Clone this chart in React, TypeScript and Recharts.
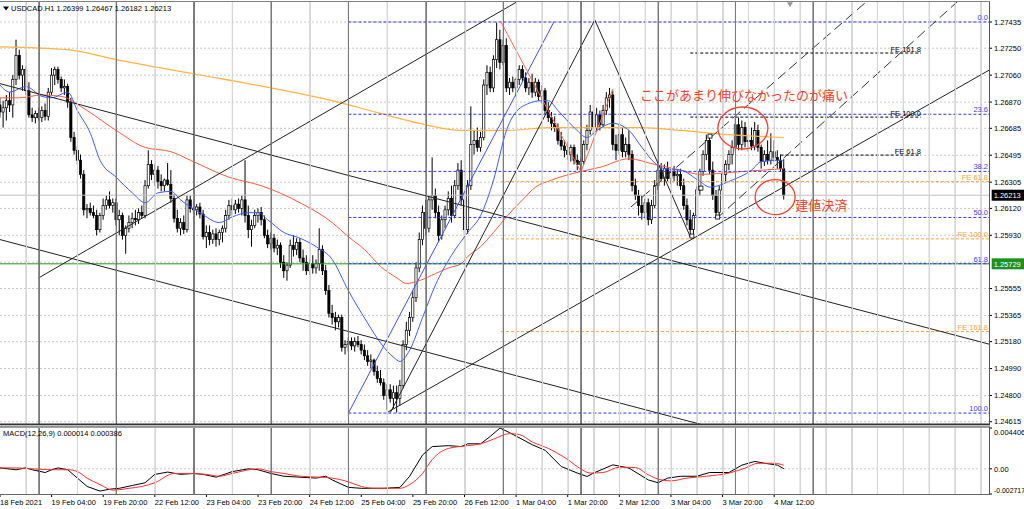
import React from 'react';
import {
  ComposedChart,
  Bar,
  Line,
  XAxis,
  YAxis,
  CartesianGrid,
  ReferenceLine,
  ReferenceDot,
} from 'recharts';

// ---------- DATA ----------
// H1 bars starting 18 Feb 2021 12:00 (index 0). [open, high, low, close]
const candles: number[][] = [
  [1.2685,1.2690,1.2676,1.2680],[1.2680,1.2688,1.2669,1.2683],[1.2683,1.2692,1.2674,1.2688],[1.2688,1.2694,1.2680,1.2685],
  [1.2685,1.2706,1.2676,1.2703],[1.2703,1.2731,1.2699,1.2720],[1.2720,1.2724,1.2703,1.2706],[1.2706,1.2713,1.2695,1.2710],
  [1.2710,1.2712,1.2692,1.2695],[1.2695,1.2701,1.2676,1.2678],[1.2678,1.2683,1.2673,1.2676],[1.2676,1.2681,1.2672,1.2679],
  [1.2679,1.2683,1.2674,1.2676],[1.2676,1.2684,1.2673,1.2681],[1.2681,1.2686,1.2674,1.2677],[1.2677,1.2697,1.2674,1.2694],
  [1.2694,1.2711,1.2692,1.2706],[1.2706,1.2712,1.2699,1.2710],[1.2710,1.2712,1.2700,1.2703],[1.2703,1.2705,1.2694,1.2697],
  [1.2697,1.2703,1.2692,1.2698],[1.2698,1.2700,1.2683,1.2687],[1.2687,1.2690,1.2659,1.2662],[1.2662,1.2666,1.2650,1.2653],
  [1.2653,1.2656,1.2643,1.2646],[1.2646,1.2650,1.2633,1.2636],[1.2636,1.2639,1.2607,1.2611],[1.2611,1.2615,1.2605,1.2612],
  [1.2612,1.2616,1.2607,1.2609],[1.2609,1.2614,1.2605,1.2607],[1.2607,1.2611,1.2593,1.2597],[1.2597,1.2609,1.2595,1.2607],
  [1.2607,1.2619,1.2604,1.2614],[1.2614,1.2621,1.2611,1.2618],[1.2618,1.2624,1.2612,1.2614],[1.2614,1.2619,1.2609,1.2616],
  [1.2616,1.2619,1.2600,1.2604],[1.2604,1.2611,1.2593,1.2607],[1.2607,1.2609,1.2590,1.2593],[1.2593,1.2600,1.2580,1.2598],
  [1.2598,1.2607,1.2595,1.2602],[1.2602,1.2609,1.2598,1.2605],[1.2605,1.2611,1.2600,1.2604],[1.2604,1.2612,1.2601,1.2609],
  [1.2609,1.2614,1.2605,1.2607],[1.2607,1.2632,1.2605,1.2628],[1.2628,1.2653,1.2626,1.2643],[1.2643,1.2646,1.2632,1.2636],
  [1.2636,1.2643,1.2628,1.2639],[1.2639,1.2642,1.2626,1.2631],[1.2631,1.2636,1.2624,1.2628],[1.2628,1.2633,1.2624,1.2632],
  [1.2632,1.2644,1.2628,1.2629],[1.2629,1.2639,1.2616,1.2619],[1.2619,1.2622,1.2602,1.2605],[1.2605,1.2611,1.2595,1.2598],
  [1.2598,1.2605,1.2593,1.2602],[1.2602,1.2607,1.2594,1.2597],[1.2597,1.2621,1.2595,1.2618],[1.2618,1.2621,1.2609,1.2612],
  [1.2612,1.2616,1.2608,1.2611],[1.2611,1.2615,1.2607,1.2613],[1.2613,1.2616,1.2605,1.2608],[1.2608,1.2611,1.2590,1.2592],
  [1.2592,1.2600,1.2584,1.2595],[1.2595,1.2600,1.2586,1.2590],[1.2590,1.2597,1.2587,1.2594],[1.2594,1.2598,1.2585,1.2590],
  [1.2590,1.2597,1.2586,1.2595],[1.2595,1.2600,1.2588,1.2598],[1.2598,1.2611,1.2595,1.2607],[1.2607,1.2618,1.2604,1.2614],
  [1.2614,1.2619,1.2607,1.2611],[1.2611,1.2618,1.2608,1.2615],[1.2615,1.2619,1.2609,1.2612],[1.2612,1.2621,1.2607,1.2618],
  [1.2618,1.2646,1.2602,1.2607],[1.2607,1.2614,1.2591,1.2597],[1.2597,1.2604,1.2585,1.2600],[1.2600,1.2611,1.2598,1.2607],
  [1.2607,1.2612,1.2602,1.2609],[1.2609,1.2613,1.2600,1.2604],[1.2604,1.2607,1.2591,1.2593],[1.2593,1.2597,1.2584,1.2587],
  [1.2587,1.2595,1.2583,1.2591],[1.2591,1.2594,1.2581,1.2584],[1.2584,1.2590,1.2579,1.2586],[1.2586,1.2588,1.2570,1.2574],
  [1.2574,1.2579,1.2563,1.2568],[1.2568,1.2574,1.2561,1.2572],[1.2572,1.2590,1.2570,1.2586],[1.2586,1.2593,1.2578,1.2583],
  [1.2583,1.2591,1.2579,1.2588],[1.2588,1.2591,1.2574,1.2577],[1.2577,1.2583,1.2568,1.2574],[1.2574,1.2579,1.2565,1.2568],
  [1.2568,1.2576,1.2565,1.2573],[1.2573,1.2579,1.2566,1.2570],[1.2570,1.2576,1.2566,1.2573],[1.2573,1.2598,1.2568,1.2583],
  [1.2583,1.2586,1.2565,1.2568],[1.2568,1.2572,1.2551,1.2554],[1.2554,1.2558,1.2535,1.2538],[1.2538,1.2544,1.2530,1.2535],
  [1.2535,1.2539,1.2526,1.2532],[1.2532,1.2537,1.2528,1.2535],[1.2535,1.2537,1.2511,1.2514],[1.2514,1.2519,1.2509,1.2516],
  [1.2516,1.2521,1.2511,1.2518],[1.2518,1.2521,1.2512,1.2515],[1.2515,1.2521,1.2511,1.2518],[1.2518,1.2522,1.2514,1.2516],
  [1.2516,1.2519,1.2509,1.2512],[1.2512,1.2516,1.2505,1.2508],[1.2508,1.2512,1.2501,1.2504],[1.2504,1.2509,1.2499,1.2505],
  [1.2505,1.2506,1.2494,1.2497],[1.2497,1.2501,1.2489,1.2492],[1.2492,1.2498,1.2487,1.2489],[1.2489,1.2492,1.2477,1.2480],
  [1.2480,1.2488,1.2470,1.2484],[1.2484,1.2488,1.2475,1.2478],[1.2478,1.2487,1.2471,1.2482],[1.2482,1.2487,1.2468,1.2478],
  [1.2478,1.2491,1.2473,1.2487],[1.2487,1.2519,1.2485,1.2516],[1.2516,1.2532,1.2512,1.2526],[1.2526,1.2539,1.2522,1.2535],
  [1.2535,1.2554,1.2532,1.2549],[1.2549,1.2574,1.2546,1.2570],[1.2570,1.2595,1.2567,1.2590],[1.2590,1.2614,1.2586,1.2609],
  [1.2609,1.2618,1.2593,1.2598],[1.2598,1.2621,1.2595,1.2618],[1.2618,1.2648,1.2611,1.2621],[1.2621,1.2626,1.2605,1.2609],
  [1.2609,1.2614,1.2588,1.2593],[1.2593,1.2607,1.2590,1.2604],[1.2604,1.2614,1.2598,1.2611],[1.2611,1.2624,1.2607,1.2619],
  [1.2619,1.2628,1.2602,1.2607],[1.2607,1.2632,1.2605,1.2628],[1.2628,1.2644,1.2625,1.2639],[1.2639,1.2646,1.2614,1.2618],
  [1.2618,1.2624,1.2590,1.2597],[1.2597,1.2632,1.2594,1.2628],[1.2628,1.2684,1.2625,1.2657],[1.2657,1.2667,1.2650,1.2660],
  [1.2660,1.2669,1.2652,1.2655],[1.2655,1.2666,1.2652,1.2662],[1.2662,1.2703,1.2660,1.2699],[1.2699,1.2713,1.2692,1.2708],
  [1.2708,1.2712,1.2694,1.2697],[1.2697,1.2720,1.2694,1.2717],[1.2717,1.2743,1.2711,1.2731],[1.2731,1.2738,1.2710,1.2715],
  [1.2715,1.2731,1.2713,1.2727],[1.2727,1.2732,1.2694,1.2697],[1.2697,1.2704,1.2692,1.2701],[1.2701,1.2705,1.2694,1.2697],
  [1.2697,1.2704,1.2691,1.2703],[1.2703,1.2713,1.2699,1.2710],[1.2710,1.2713,1.2701,1.2704],[1.2704,1.2708,1.2694,1.2697],
  [1.2697,1.2704,1.2692,1.2701],[1.2701,1.2707,1.2690,1.2694],[1.2694,1.2704,1.2691,1.2701],[1.2701,1.2703,1.2688,1.2691],
  [1.2691,1.2699,1.2686,1.2695],[1.2695,1.2697,1.2678,1.2681],[1.2681,1.2687,1.2673,1.2676],[1.2676,1.2680,1.2667,1.2672],
  [1.2672,1.2677,1.2666,1.2669],[1.2669,1.2672,1.2657,1.2660],[1.2660,1.2666,1.2653,1.2656],[1.2656,1.2660,1.2648,1.2653],
  [1.2653,1.2659,1.2646,1.2650],[1.2650,1.2657,1.2645,1.2655],[1.2655,1.2657,1.2643,1.2646],[1.2646,1.2650,1.2639,1.2643],
  [1.2643,1.2648,1.2638,1.2645],[1.2645,1.2660,1.2643,1.2657],[1.2657,1.2671,1.2653,1.2667],[1.2667,1.2685,1.2664,1.2680],
  [1.2680,1.2685,1.2664,1.2669],[1.2669,1.2683,1.2666,1.2678],[1.2678,1.2681,1.2667,1.2671],[1.2671,1.2685,1.2669,1.2681],
  [1.2681,1.2694,1.2678,1.2690],[1.2690,1.2697,1.2683,1.2692],[1.2692,1.2695,1.2653,1.2657],[1.2657,1.2664,1.2646,1.2653],
  [1.2653,1.2671,1.2650,1.2664],[1.2664,1.2669,1.2648,1.2652],[1.2652,1.2662,1.2648,1.2657],[1.2657,1.2667,1.2646,1.2650],
  [1.2650,1.2653,1.2624,1.2628],[1.2628,1.2633,1.2618,1.2621],[1.2621,1.2625,1.2607,1.2614],[1.2614,1.2621,1.2604,1.2609],
  [1.2609,1.2619,1.2605,1.2616],[1.2616,1.2619,1.2600,1.2604],[1.2604,1.2618,1.2601,1.2614],[1.2614,1.2632,1.2612,1.2628],
  [1.2628,1.2643,1.2625,1.2639],[1.2639,1.2644,1.2631,1.2633],[1.2633,1.2643,1.2628,1.2640],[1.2640,1.2645,1.2631,1.2633],
  [1.2633,1.2640,1.2629,1.2638],[1.2638,1.2642,1.2631,1.2635],[1.2635,1.2639,1.2628,1.2636],[1.2636,1.2640,1.2625,1.2628],
  [1.2628,1.2633,1.2611,1.2614],[1.2614,1.2619,1.2600,1.2604],[1.2604,1.2611,1.2592,1.2597],[1.2597,1.2609,1.2594,1.2607],
  [1.2607,1.2628,1.2605,1.2625],[1.2625,1.2640,1.2621,1.2638],[1.2638,1.2653,1.2635,1.2650],[1.2650,1.2664,1.2646,1.2660],
  [1.2660,1.2662,1.2636,1.2639],[1.2639,1.2645,1.2618,1.2621],[1.2621,1.2625,1.2605,1.2609],[1.2609,1.2628,1.2607,1.2625],
  [1.2625,1.2640,1.2618,1.2636],[1.2636,1.2646,1.2631,1.2643],[1.2643,1.2653,1.2639,1.2650],[1.2650,1.2660,1.2643,1.2655],
  [1.2655,1.2676,1.2652,1.2671],[1.2671,1.2676,1.2653,1.2657],[1.2657,1.2674,1.2653,1.2669],[1.2669,1.2673,1.2655,1.2659],
  [1.2659,1.2664,1.2652,1.2660],[1.2660,1.2669,1.2653,1.2656],[1.2656,1.2673,1.2653,1.2667],[1.2667,1.2671,1.2652,1.2655],
  [1.2655,1.2657,1.2640,1.2645],[1.2645,1.2653,1.2642,1.2650],[1.2650,1.2660,1.2643,1.2646],[1.2646,1.2665,1.2643,1.2652],
  [1.2652,1.2660,1.2645,1.2648],[1.2648,1.2653,1.2640,1.2646],[1.2646,1.2650,1.2638,1.2640],[1.26399,1.26467,1.26182,1.26213],
];

// moving averages [bar, price]
const maSlow: number[][] = [
  [0,1.2726],[21,1.2724],[36,1.2717],[60,1.2707],[84,1.2697],[103,1.2688],[118,1.2679],[130,1.2672],
  [143,1.2667],[157,1.2667],[171,1.2669],[183,1.2669],[199,1.2669],[211,1.2667],[226,1.2664],[243,1.2662],
];
const maMid: number[][] = [
  [0,1.2690],[6,1.2690],[13,1.2692],[19,1.2691],[27,1.2681],[36,1.2667],[45,1.2655],[53,1.2652],[59,1.2646],
  [71,1.2634],[81,1.2628],[93,1.2616],[103,1.2602],[108,1.2592],[113,1.2583],[118,1.2571],[123,1.2563],[126,1.2559],
  [130,1.2561],[135,1.2566],[139,1.2570],[143,1.2573],[145,1.2578],[149,1.2585],[153,1.2595],[157,1.2606],[162,1.2618],
  [166,1.2627],[171,1.2632],[180,1.2638],[186,1.2641],[195,1.2647],[203,1.2643],[211,1.2639],[217,1.2636],[230,1.2638],[243,1.2640],
];
const maFast: number[][] = [
  [0,1.2699],[3,1.2694],[8,1.2698],[13,1.2691],[16,1.2690],[21,1.2694],[24,1.2681],[28,1.2665],[31,1.2646],[36,1.2634],
  [41,1.2623],[45,1.2616],[49,1.2623],[53,1.2624],[56,1.2618],[62,1.2609],[68,1.2602],[72,1.2606],[77,1.2609],[80,1.2609],
  [83,1.2604],[88,1.2595],[93,1.2591],[98,1.2585],[103,1.2576],[108,1.2554],[114,1.2531],[118,1.2517],[122,1.2507],[124,1.2504],
  [127,1.2512],[131,1.2535],[135,1.2558],[140,1.2579],[145,1.2595],[149,1.2607],[153,1.2632],[157,1.2667],[162,1.2684],
  [168,1.2688],[170,1.2688],[173,1.2681],[178,1.2669],[182,1.2662],[185,1.2667],[190,1.2672],[195,1.2667],[199,1.2655],
  [203,1.2644],[206,1.2640],[211,1.2639],[217,1.2631],[220,1.2627],[227,1.2632],[233,1.2639],[236,1.2645],[242,1.2646],[243,1.2645],
];

// MACD(12,26,9) [bar, value]
const macdMain: number[][] = [
  [0,0.0001],[5,-0.0001],[8,0.0001],[10,-0.0001],[14,-0.0004],[16,-0.0001],[18,0.0001],[21,-0.0001],[24,-0.0010],[27,-0.0019],
  [31,-0.0024],[34,-0.0022],[37,-0.0021],[41,-0.0018],[45,-0.0015],[48,-0.0006],[52,-0.00035],[56,-0.0006],[60,-0.0005],
  [63,-0.0006],[67,-0.0009],[72,-0.0003],[77,0.0],[80,-0.0001],[84,-0.0005],[88,-0.0008],[93,-0.0009],[98,-0.0010],
  [101,-0.0008],[103,-0.0012],[108,-0.0020],[112,-0.0021],[119,-0.0021],[124,-0.0020],[127,-0.0008],[131,0.0015],
  [134,0.0024],[139,0.0025],[143,0.0024],[145,0.0027],[149,0.0027],[152,0.0035],[155,0.0044],[158,0.0039],[165,0.0026],
  [169,0.0020],[174,0.00025],[179,-0.00046],[182,-0.00083],[184,-0.00046],[190,0.00043],[195,0.00008],[201,-0.0012],
  [204,-0.0015],[207,-0.0010],[211,-0.0008],[216,-0.0008],[220,-0.0004],[226,-0.0004],[230,0.0004],[234,0.0008],
  [237,0.0006],[241,0.0004],[243,0.000014],
];
const macdSignal: number[][] = [
  [0,0.0001],[5,0.0001],[10,0.0],[16,-0.0001],[21,-0.0001],[24,-0.0003],[27,-0.0010],[31,-0.0017],[35,-0.0023],[40,-0.0021],
  [44,-0.0019],[48,-0.0015],[54,-0.0005],[58,-0.0005],[64,-0.0006],[68,-0.0008],[72,-0.0005],[80,0.0],[84,-0.0003],
  [88,-0.0005],[93,-0.0008],[99,-0.0009],[103,-0.0010],[108,-0.0014],[112,-0.0019],[116,-0.0021],[124,-0.0021],
  [127,-0.0017],[131,-0.0005],[134,0.0010],[139,0.0022],[145,0.0025],[149,0.0027],[153,0.0032],[158,0.0038],[161,0.0037],
  [165,0.0029],[170,0.0022],[176,0.0010],[180,0.0],[183,-0.00046],[187,-0.0004],[192,0.00018],[197,0.00014],[201,-0.00065],
  [205,-0.0012],[208,-0.0013],[213,-0.0010],[219,-0.0008],[226,-0.00046],[231,0.00008],[235,0.0006],[240,0.0006],[243,0.000386],
];

const priceTicks = [1.27435,1.2725,1.2706,1.2687,1.26685,1.26495,1.26305,1.2612,1.2593,1.25555,1.25365,1.2518,1.2499,1.248,1.24615];
const priceGrid = [1.27435,1.2725,1.2706,1.2687,1.26685,1.26495,1.26305,1.2612,1.2593,1.2574,1.25555,1.25365,1.2518,1.2499,1.248,1.24615];
const timeLabelBars = [0,16,32,48,64,80,96,112,128,144,160,176,192,208,224,240];
const timeLabels = ['18 Feb 2021','19 Feb 04:00','19 Feb 20:00','22 Feb 12:00','23 Feb 04:00','23 Feb 20:00','24 Feb 12:00',
  '25 Feb 04:00','25 Feb 20:00','26 Feb 12:00','1 Mar 04:00','1 Mar 20:00','2 Mar 12:00','3 Mar 04:00','3 Mar 20:00','4 Mar 12:00'];
const lightGridBars = [8,24,48,72,96,120,144,160,168,176,184,192,200,208,216,224,232,240,248,256,264,272,280,288,296,304];
const daySeparatorBars = [12,36,60,84,108,132,156,180,204,228,252];

// drawn objects: [bar1, price1, bar2, price2]
const trendLines: number[][] = [
  [0,1.2700,307,1.2516],
  [0,1.2590,220,1.2458],
  [12,1.2563,162,1.2760],
  [121,1.2468,184.4,1.2745],
  [184.4,1.2745,214,1.2592],
  [120,1.2468,307,1.2710],
];
const channelLines: number[][] = [
  [195.6,1.2613,268.7,1.2758],
  [222.2,1.2605,296.9,1.2758],
];
const fibDiagonal = [108, 1.24676, 171.7, 1.27435];
const fibLevels = [[0.0,1.27435],[23.6,1.26784],[38.2,1.26381],[50.0,1.26056],[61.8,1.2573],[100.0,1.24676]];
const feZigzag: number[][] = [[155.3,1.27435],[180.1,1.26377],[190,1.26963]];
const feOrangeLevels = [[61.8,1.26309],[100.0,1.25905],[161.8,1.25251]];
const feBlackLevels = [[161.8,1.27216,214],[100.0,1.26764,214],[61.8,1.26496,242]];
const fePoints: number[][] = [[214.5,1.25925],[217.3,1.26263],[220.1,1.2663],[222.5,1.26059]];
const bidPrice = 1.26213;
const greenLevel = 1.25729;
const ellipses = [[230.3,1.26687,25,21],[240.3,1.262,20,17.5]];
const notes: [number, number, string][] = [
  [198.4,1.2692,'ここがあまり伸びなかったのが痛い'],
  [246.5,1.26144,'建値決済'],
];

// ---------- CHART ----------
const X_DOMAIN: [number, number] = [0, 306.6];
const PRICE_DOMAIN: [number, number] = [1.24599, 1.27576];
const MACD_DOMAIN: [number, number] = [-0.002717, 0.004406];
const MAIN_HALF_H = 211;
const MACD_HALF_H = 33;
const FONT = '"Liberation Sans", Arial, sans-serif';
const RED = '#f5402c';
const LIGHT_GRID = '#d6d6d6';
const DAY_SEP = '#7a7a7a';

const candleData = candles.map(([o, h, l, c], i) => ({ i, o, h, l, c, range: [l, h] }));
const toPts = (arr: number[][]) => arr.map(([i, v]) => ({ i, v }));
const mid = (d: [number, number]) => (d[0] + d[1]) / 2;
// vertical grid as a gapped path: bottom -> top per bar, broken by a null point
const vGridData = (bars: number[], dom: [number, number]) =>
  bars.flatMap((b) => [{ i: b, v: dom[0] }, { i: b + 0.0001, v: dom[1] }, { i: b + 0.0002, v: null as number | null }]);

const CandleShape = (props: any) => {
  const { x, y, width, height, payload } = props;
  if (!payload || x == null || y == null || payload.o == null) return null;
  const { o, h, l, c } = payload;
  const cx = x + width / 2;
  const top = Math.min(y, y + height);
  const bot = Math.max(y, y + height);
  const span = h - l || 1e-9;
  const py = (p: number) => top + ((h - p) / span) * (bot - top);
  const yo = py(o);
  const yc = py(c);
  const bull = c >= o;
  const bt = Math.min(yo, yc);
  const bh = Math.max(Math.abs(yc - yo), 0.8);
  return (
    <g>
      <line x1={cx} x2={cx} y1={top} y2={bot} stroke="#000" strokeWidth={1} />
      <rect x={cx - 1.1} y={bt} width={2.2} height={bh} fill={bull ? '#fff' : '#000'} stroke="#000" strokeWidth={0.7} />
    </g>
  );
};

const PriceTick = (props: any) => {
  const { x, y, payload } = props;
  return (
    <text x={x} y={y} dy={2.7} fontSize={7.5} fontFamily={FONT} fill="#000" textAnchor="start">
      {Number(payload.value).toFixed(5)}
    </text>
  );
};

const MacdTick = (props: any) => {
  const { x, y, payload } = props;
  const v = payload.value;
  let dy = 2.7;
  let label = '0.00';
  let size = 7.5;
  if (v === MACD_DOMAIN[1]) { dy = 6.5; label = v.toFixed(6); }
  else if (v === MACD_DOMAIN[0]) { dy = -1.2; label = v.toFixed(6); size = 6.9; }
  return (
    <text x={x} y={y} dy={dy} fontSize={size} fontFamily={FONT} fill="#000" textAnchor="start">{label}</text>
  );
};

const TimeTick = (props: any) => {
  const { x, y, payload } = props;
  const idx = timeLabelBars.indexOf(payload.value);
  return (
    <text x={x} y={y} dy={7.5} fontSize={7.5} fontFamily={FONT} fill="#000" textAnchor="start">
      {idx >= 0 ? timeLabels[idx] : ''}
    </text>
  );
};

const textShape = (label: string, color: string, dx: number, dy: number, anchor: string, size = 7.5, family = FONT) =>
  (p: any) => (
    <text x={p.cx + dx} y={p.cy + dy} fill={color} fontSize={size} fontFamily={family} textAnchor={anchor}>{label}</text>
  );

const priceBox = (label: string, bg: string) => (p: any) => (
  <g>
    <rect x={p.cx + 3} y={p.cy - 5.5} width={34} height={11} fill={bg} />
    <text x={p.cx + 5} y={p.cy + 2.7} fill="#fff" fontSize={7.5} fontFamily={FONT}>{label}</text>
  </g>
);

// vertical grid: a dot anchored at bar b, mid-pane, drawing a thin rect over the pane height
const vGridDots = (bars: number[], dom: [number, number], halfH: number, color: string, prefix: string) =>
  bars.map((b) => (
    <ReferenceDot
      key={prefix + b}
      x={b}
      y={mid(dom)}
      r={1}
      ifOverflow="visible"
      shape={(q: any) => (
        <rect x={Math.round(q.cx)} y={q.cy - halfH} width={1} height={halfH * 2} fill={color} />
      )}
    />
  ));

const vGridLine = (data: any[], color: string) => (
  <Line data={data} dataKey="v" type="linear" stroke={color} strokeWidth={1} dot={false} activeDot={false}
    connectNulls={false} isAnimationActive={false} />
);

export default function App() {
  return (
    <div style={{ position: 'absolute', left: 0, top: 0, width: 1024, height: 509, background: '#fff', overflow: 'hidden' }}>
      <div style={{ position: 'absolute', left: 0, top: 0 }}>
        <ComposedChart width={1024} height={426} data={candleData} margin={{ top: 2, right: 0, bottom: 2, left: 0 }}>
          <CartesianGrid horizontalValues={priceGrid} vertical={false} stroke="#c8c8c8" strokeDasharray="2 2" />
          <XAxis type="number" dataKey="i" domain={X_DOMAIN} allowDataOverflow hide />
          <YAxis
            type="number"
            orientation="right"
            width={35}
            domain={PRICE_DOMAIN}
            allowDataOverflow
            ticks={priceTicks}
            interval={0}
            tick={<PriceTick />}
            tickSize={3}
            tickMargin={2}
            tickLine={{ stroke: '#000' }}
            axisLine={false}
          />
          {vGridDots(lightGridBars, PRICE_DOMAIN, MAIN_HALF_H, LIGHT_GRID, 'lg')}
          {vGridDots(daySeparatorBars, PRICE_DOMAIN, MAIN_HALF_H, DAY_SEP, 'ds')}
          {vGridLine(vGridData(lightGridBars, PRICE_DOMAIN), LIGHT_GRID)}
          {vGridLine(vGridData(daySeparatorBars, PRICE_DOMAIN), DAY_SEP)}
          <ReferenceLine y={bidPrice} stroke="#c0c0c0" strokeWidth={1} />
          <Bar dataKey="range" shape={CandleShape} isAnimationActive={false} barSize={3} />
          <Line data={toPts(maSlow)} dataKey="v" type="monotone" stroke="#ffb347" strokeWidth={1.2} dot={false} isAnimationActive={false} />
          <Line data={toPts(maMid)} dataKey="v" type="monotone" stroke="#ff5a3c" strokeWidth={1} dot={false} isAnimationActive={false} />
          <Line data={toPts(maFast)} dataKey="v" type="monotone" stroke="#3f5cff" strokeWidth={1} dot={false} isAnimationActive={false} />

          <ReferenceLine y={greenLevel} stroke="#1f9a1f" strokeWidth={1} />

          {fibLevels.map(([lv, p]) => (
            <ReferenceLine key={'fib' + lv} segment={[{ x: fibDiagonal[0], y: p }, { x: X_DOMAIN[1], y: p }]} stroke="#3333ff" strokeDasharray="3 2" ifOverflow="hidden" />
          ))}
          {feOrangeLevels.map(([lv, p]) => (
            <ReferenceLine key={'feo' + lv} segment={[{ x: feZigzag[0][0], y: p }, { x: X_DOMAIN[1], y: p }]} stroke="#ffa040" strokeDasharray="3 2" ifOverflow="hidden" />
          ))}
          {feBlackLevels.map(([lv, p, start]) => (
            <ReferenceLine key={'feb' + lv} segment={[{ x: start, y: p }, { x: 285.5, y: p }]} stroke="#000" strokeDasharray="3 2" ifOverflow="hidden" />
          ))}

          {trendLines.map((t, k) => (
            <ReferenceLine key={'tl' + k} segment={[{ x: t[0], y: t[1] }, { x: t[2], y: t[3] }]} stroke="#222" strokeWidth={1} ifOverflow="hidden" />
          ))}
          {channelLines.map((t, k) => (
            <ReferenceLine key={'ch' + k} segment={[{ x: t[0], y: t[1] }, { x: t[2], y: t[3] }]} stroke="#333" strokeWidth={1} strokeDasharray="10 5" ifOverflow="hidden" />
          ))}
          <ReferenceLine segment={[{ x: fibDiagonal[0], y: fibDiagonal[1] }, { x: fibDiagonal[2], y: fibDiagonal[3] }]} stroke="#3c50ff" strokeWidth={1} ifOverflow="hidden" />
          <ReferenceLine segment={[{ x: feZigzag[0][0], y: feZigzag[0][1] }, { x: feZigzag[1][0], y: feZigzag[1][1] }]} stroke="#ff6a4a" strokeWidth={1} ifOverflow="hidden" />
          <ReferenceLine segment={[{ x: feZigzag[1][0], y: feZigzag[1][1] }, { x: feZigzag[2][0], y: feZigzag[2][1] }]} stroke="#ff6a4a" strokeWidth={1} ifOverflow="hidden" />

          {fePoints.map(([i, p], k) => (
            <ReferenceDot key={'sq' + k} x={i} y={p} r={2}
              shape={(q: any) => <rect x={q.cx - 2} y={q.cy - 2} width={4} height={4} fill="#fff" stroke="#000" strokeWidth={0.8} />} />
          ))}

          {fibLevels.map(([lv, p]) => (
            <ReferenceDot key={'fibl' + lv} x={306.3} y={p} r={1} shape={textShape(lv.toFixed(1), '#3c3cff', 0, -2, 'end')} />
          ))}
          {feOrangeLevels.map(([lv, p]) => (
            <ReferenceDot key={'feol' + lv} x={306.3} y={p} r={1} shape={textShape('FE ' + lv.toFixed(1), '#ffa040', 0, -2, 'end')} />
          ))}
          {feBlackLevels.map(([lv, p]) => (
            <ReferenceDot key={'febl' + lv} x={285.5} y={p} r={1} shape={textShape('FE ' + lv.toFixed(1), '#000', 0, -1.5, 'end')} />
          ))}

          {ellipses.map(([i, p, rx, ry], k) => (
            <ReferenceDot key={'el' + k} x={i} y={p} r={1}
              shape={(q: any) => <ellipse cx={q.cx} cy={q.cy} rx={rx} ry={ry} fill="none" stroke={RED} strokeWidth={1.3} />} />
          ))}
          {notes.map(([i, p, s], k) => (
            <ReferenceDot key={'nt' + k} x={i} y={p} r={1}
              shape={textShape(s, RED, 0, 4.6, 'start', 13, '"Noto Sans CJK JP", sans-serif')} />
          ))}

          <ReferenceDot x={306.5} y={bidPrice} r={1} shape={priceBox(bidPrice.toFixed(5), '#000')} />
          <ReferenceDot x={306.5} y={greenLevel} r={1} shape={priceBox(greenLevel.toFixed(5), '#1f8f1f')} />
          <ReferenceDot x={244.9} y={1.2756} r={1}
            shape={(q: any) => <polygon points={`${q.cx - 3},${q.cy - 2} ${q.cx + 3},${q.cy - 2} ${q.cx},${q.cy + 3}`} fill="#9a9a9a" />} />
        </ComposedChart>
      </div>

      <div style={{ position: 'absolute', left: 0, top: 424 }}>
        <ComposedChart width={1024} height={85} margin={{ top: 4, right: 0, bottom: 0, left: 0 }}>
          <CartesianGrid horizontalValues={[0]} vertical={false} stroke="#c8c8c8" strokeDasharray="2 2" />
          <XAxis
            type="number"
            dataKey="i"
            domain={X_DOMAIN}
            allowDataOverflow
            ticks={timeLabelBars}
            interval={0}
            tick={<TimeTick />}
            tickSize={3}
            tickMargin={0}
            height={15}
            axisLine={false}
            tickLine={{ stroke: '#000' }}
          />
          <YAxis
            type="number"
            orientation="right"
            width={35}
            domain={MACD_DOMAIN}
            allowDataOverflow
            ticks={[MACD_DOMAIN[1], 0, MACD_DOMAIN[0]]}
            interval={0}
            tick={<MacdTick />}
            tickSize={3}
            tickMargin={2}
            tickLine={{ stroke: '#000' }}
            axisLine={false}
          />
          {vGridDots(lightGridBars, MACD_DOMAIN, MACD_HALF_H, LIGHT_GRID, 'mlg')}
          {vGridDots(daySeparatorBars, MACD_DOMAIN, MACD_HALF_H, DAY_SEP, 'mds')}
          {vGridLine(vGridData(lightGridBars, MACD_DOMAIN), LIGHT_GRID)}
          {vGridLine(vGridData(daySeparatorBars, MACD_DOMAIN), DAY_SEP)}
          <Line data={toPts(macdMain)} dataKey="v" type="linear" stroke="#000" strokeWidth={1} dot={false} isAnimationActive={false} />
          <Line data={toPts(macdSignal)} dataKey="v" type="monotone" stroke="#ff3030" strokeWidth={1} dot={false} isAnimationActive={false} />
        </ComposedChart>
      </div>

      <svg width={1024} height={509} style={{ position: 'absolute', left: 0, top: 0, pointerEvents: 'none' }}>
        <line x1={0} x2={989.5} y1={1.5} y2={1.5} stroke="#808080" />
        <line x1={989.5} x2={989.5} y1={1.5} y2={424} stroke="#555" />
        <rect x={0} y={423.5} width={990} height={1.6} fill="#333" />
        <rect x={0} y={425.1} width={990} height={1.4} fill="#bdbdbd" />
        <rect x={0} y={426.5} width={990} height={1} fill="#444" />
        <line x1={989.5} x2={989.5} y1={427} y2={494.5} stroke="#555" />
        <line x1={0} x2={989.5} y1={494.5} y2={494.5} stroke="#666" />
        <polygon points="3,6.5 9,6.5 6,10.5" fill="#000" />
        <text x={11} y={11} fontSize={7.5} fontFamily={FONT} fill="#000">USDCAD.H1  1.26399 1.26467 1.26182 1.26213</text>
        <text x={3} y={436} fontSize={7.5} fontFamily={FONT} fill="#000">MACD(12,26,9) 0.000014 0.000386</text>
      </svg>
    </div>
  );
}
